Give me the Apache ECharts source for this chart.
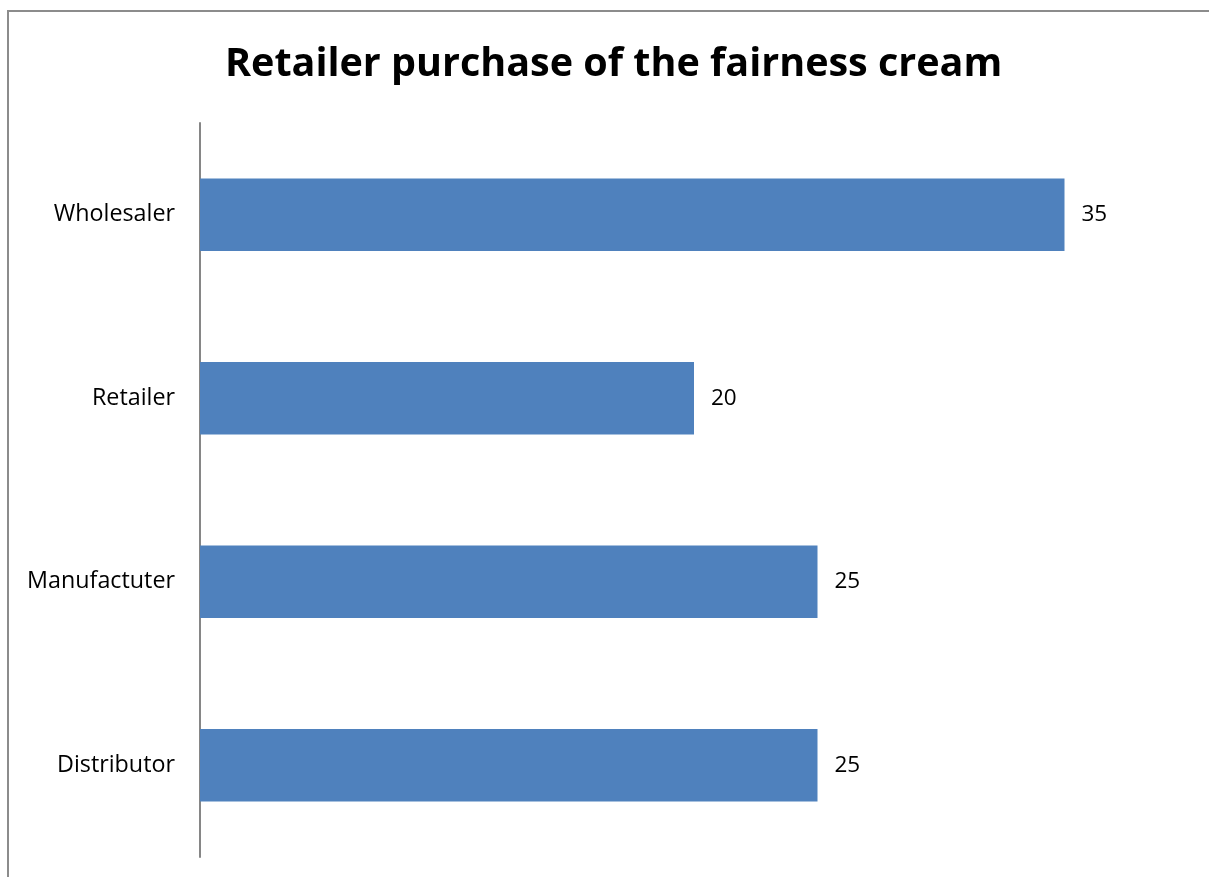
<!DOCTYPE html>
<html>
<head>
<meta charset="utf-8">
<script src="https://cdn.jsdelivr.net/npm/echarts@6/dist/echarts.min.js"></script>
<style>
  html, body { margin: 0; padding: 0; background: #fff; }
  #chartmain { width: 1209px; height: 877px; }
</style>
</head>
<body>
<div id="chartmain"></div>
<script>
var categories = ["Distributor", "Manufactuter", "Retailer", "Wholesaler"];
var values = [25, 25, 20, 35];

var myChart = echarts.init(document.getElementById('chartmain'));

var option = {
    backgroundColor: '#ffffff',
    animation: false,
    title: {
        text: 'Retailer purchase of the fairness cream',
        left: 220,
        top: 40,
        textStyle: {
            fontFamily: 'Open Sans',
            fontWeight: 'bold',
            fontSize: 39.5,
            color: '#000'
        }
    },
    // chart frame (left and top edges)
    graphic: [{
        type: 'polyline',
        shape: { points: [[8, 877], [8, 11], [1209, 11]] },
        style: { stroke: '#8c8c8c', lineWidth: 2, fill: null }
    }],
    grid: { left: 200, top: 123, width: 988, height: 734 },
    xAxis: {
        type: 'value',
        min: 0,
        max: 40,
        show: false
    },
    yAxis: {
        type: 'category',
        data: categories,
        axisLine: { lineStyle: { color: '#868686', width: 2 } },
        axisTick: { show: false },
        axisLabel: {
            fontFamily: 'Open Sans',
            fontSize: 23.3,
            color: '#000',
            margin: 25
        }
    },
    series: [{
        type: 'bar',
        data: values,
        barCategoryGap: '60.5%',
        itemStyle: { color: '#4F81BD' },
        label: {
            show: true,
            position: 'right',
            distance: 17,
            fontFamily: 'Open Sans',
            fontSize: 22.5,
            color: '#000'
        }
    }]
};

myChart.setOption(option);
</script>
</body>
</html>
